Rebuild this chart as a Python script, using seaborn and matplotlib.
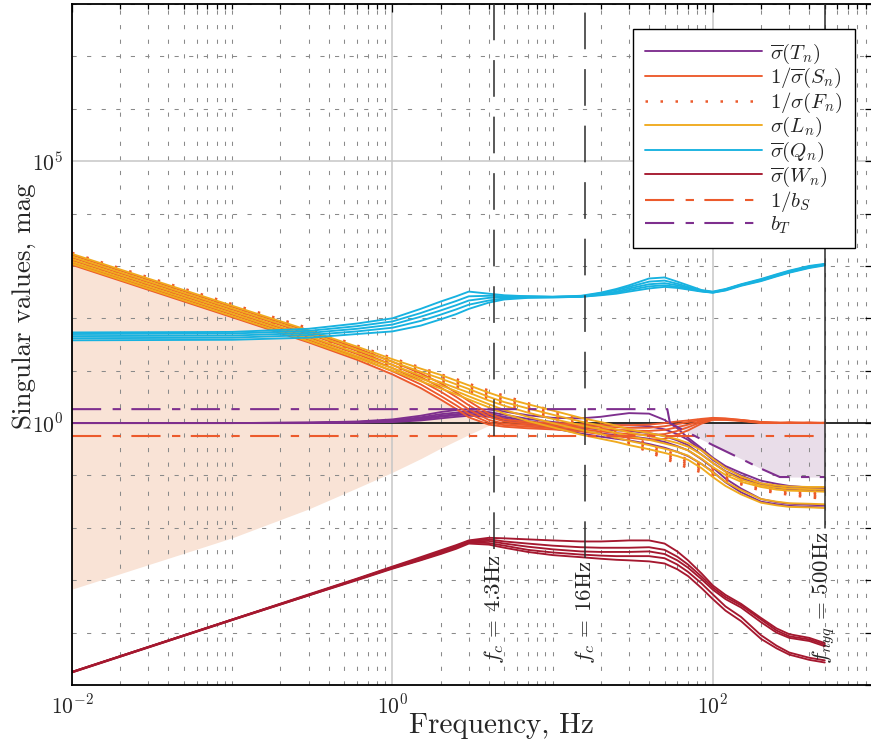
import numpy as np
import pandas as pd
import matplotlib
matplotlib.use("Agg")
import matplotlib.pyplot as plt
import seaborn as sns
from matplotlib.ticker import FixedLocator, FixedFormatter, NullFormatter
from matplotlib.lines import Line2D

# ---------------------------------------------------------------------------
# Data: frequency grid (Hz) and log10 singular values of each loop function
# (five plant variants per family)
# ---------------------------------------------------------------------------
FREQ = [0.01, 0.1, 0.3, 0.6, 1, 1.5, 2, 2.5, 3, 4, 5, 7, 10, 15, 20, 25, 30,
        40, 50, 60, 70, 85, 100, 120, 150, 200, 250, 300, 400, 500]

T_LOG = [
    [0.00, 0.00, 0.01, 0.03, 0.07, 0.14, 0.21, 0.25, 0.27, 0.26, 0.22, 0.15, 0.10, 0.09, 0.12, 0.16, 0.19, 0.18, 0.06, -0.10, -0.28, -0.48, -0.66, -0.82, -0.95, -1.10, -1.16, -1.20, -1.23, -1.24],
    [0.00, 0.00, 0.01, 0.02, 0.05, 0.11, 0.17, 0.20, 0.23, 0.21, 0.16, 0.08, 0.02, -0.03, -0.04, -0.04, -0.04, -0.06, -0.12, -0.21, -0.32, -0.52, -0.70, -0.86, -1.00, -1.15, -1.21, -1.24, -1.26, -1.27],
    [0.00, 0.00, 0.00, 0.02, 0.04, 0.09, 0.14, 0.17, 0.20, 0.18, 0.12, 0.04, -0.03, -0.09, -0.12, -0.14, -0.15, -0.19, -0.25, -0.33, -0.42, -0.60, -0.76, -0.92, -1.05, -1.18, -1.24, -1.27, -1.29, -1.30],
    [0.00, 0.00, 0.00, 0.01, 0.03, 0.07, 0.12, 0.15, 0.17, 0.15, 0.09, 0.01, -0.07, -0.15, -0.20, -0.23, -0.25, -0.30, -0.36, -0.44, -0.52, -0.69, -0.85, -1.06, -1.25, -1.45, -1.51, -1.54, -1.56, -1.57],
    [0.00, 0.00, 0.00, 0.01, 0.02, 0.05, 0.09, 0.12, 0.14, 0.12, 0.06, -0.02, -0.10, -0.20, -0.26, -0.30, -0.33, -0.40, -0.47, -0.55, -0.63, -0.78, -0.93, -1.13, -1.32, -1.50, -1.55, -1.58, -1.60, -1.61],
]

S_LOG = [
    [3.21, 2.22, 1.75, 1.43, 1.17, 0.95, 0.76, 0.58, 0.42, 0.18, 0.07, 0.02, 0.00, -0.02, -0.03, -0.04, -0.04, -0.03, 0.00, 0.03, 0.05, 0.08, 0.10, 0.09, 0.06, 0.02, 0.00, 0.01, 0.00, 0.01],
    [3.16, 2.17, 1.70, 1.38, 1.11, 0.88, 0.68, 0.50, 0.34, 0.12, 0.03, -0.01, -0.03, -0.05, -0.07, -0.08, -0.09, -0.09, -0.06, -0.02, 0.02, 0.06, 0.09, 0.08, 0.06, 0.02, 0.01, 0.00, 0.01, 0.00],
    [3.11, 2.12, 1.64, 1.32, 1.05, 0.81, 0.60, 0.42, 0.26, 0.06, -0.01, -0.04, -0.06, -0.08, -0.11, -0.13, -0.14, -0.15, -0.13, -0.08, -0.03, 0.04, 0.08, 0.07, 0.05, 0.01, 0.00, 0.01, 0.00, 0.00],
    [3.06, 2.07, 1.59, 1.26, 0.99, 0.74, 0.52, 0.34, 0.18, 0.01, -0.04, -0.07, -0.09, -0.12, -0.16, -0.19, -0.21, -0.23, -0.21, -0.15, -0.08, 0.02, 0.07, 0.07, 0.05, 0.01, 0.01, 0.00, 0.01, 0.00],
    [3.02, 2.02, 1.54, 1.21, 0.93, 0.67, 0.45, 0.27, 0.11, -0.03, -0.07, -0.10, -0.12, -0.16, -0.21, -0.25, -0.28, -0.32, -0.30, -0.22, -0.14, -0.01, 0.06, 0.06, 0.04, 0.00, 0.00, 0.01, 0.00, 0.00],
]

F_LOG = [
    [3.25, 2.27, 1.81, 1.48, 1.24, 1.06, 0.93, 0.84, 0.75, 0.62, 0.52, 0.38, 0.23, 0.08, -0.03, -0.14, -0.25, -0.40, -0.52, -0.61, -0.70, -0.79, -0.86, -0.94, -1.03, -1.15, -1.20, -1.24, -1.28, -1.30],
    [3.21, 2.23, 1.77, 1.44, 1.20, 1.02, 0.89, 0.80, 0.71, 0.58, 0.48, 0.34, 0.19, 0.04, -0.07, -0.18, -0.29, -0.44, -0.56, -0.65, -0.74, -0.82, -0.90, -0.98, -1.07, -1.19, -1.23, -1.27, -1.32, -1.34],
    [3.17, 2.19, 1.73, 1.40, 1.16, 0.98, 0.85, 0.76, 0.67, 0.54, 0.44, 0.30, 0.15, 0.01, -0.10, -0.22, -0.33, -0.48, -0.60, -0.69, -0.78, -0.86, -0.94, -1.02, -1.10, -1.22, -1.27, -1.31, -1.35, -1.37],
    [3.13, 2.15, 1.69, 1.36, 1.12, 0.94, 0.81, 0.72, 0.63, 0.50, 0.40, 0.26, 0.12, -0.03, -0.14, -0.26, -0.37, -0.52, -0.64, -0.73, -0.82, -0.90, -0.97, -1.05, -1.14, -1.26, -1.30, -1.34, -1.39, -1.41],
    [3.10, 2.12, 1.66, 1.33, 1.08, 0.90, 0.77, 0.68, 0.59, 0.46, 0.36, 0.22, 0.08, -0.06, -0.17, -0.29, -0.40, -0.55, -0.68, -0.77, -0.86, -0.94, -1.01, -1.09, -1.17, -1.29, -1.33, -1.37, -1.42, -1.44],
]

L_LOG = [
    [3.23, 2.24, 1.77, 1.46, 1.22, 1.04, 0.92, 0.81, 0.72, 0.58, 0.48, 0.36, 0.24, 0.10, 0.02, -0.05, -0.12, -0.19, -0.25, -0.31, -0.38, -0.52, -0.68, -0.86, -1.02, -1.15, -1.19, -1.21, -1.22, -1.22],
    [3.18, 2.19, 1.72, 1.40, 1.17, 0.98, 0.85, 0.74, 0.65, 0.50, 0.40, 0.28, 0.16, 0.03, -0.05, -0.12, -0.18, -0.25, -0.32, -0.38, -0.45, -0.60, -0.76, -0.93, -1.08, -1.19, -1.23, -1.25, -1.26, -1.27],
    [3.13, 2.14, 1.66, 1.34, 1.11, 0.91, 0.78, 0.67, 0.58, 0.43, 0.33, 0.20, 0.08, -0.04, -0.12, -0.19, -0.25, -0.32, -0.39, -0.45, -0.52, -0.68, -0.84, -0.99, -1.12, -1.22, -1.27, -1.29, -1.30, -1.31],
    [3.08, 2.09, 1.61, 1.28, 1.05, 0.85, 0.72, 0.61, 0.51, 0.36, 0.25, 0.12, 0.00, -0.13, -0.21, -0.28, -0.34, -0.42, -0.49, -0.55, -0.62, -0.78, -0.94, -1.12, -1.28, -1.45, -1.50, -1.53, -1.54, -1.55],
    [3.04, 2.04, 1.56, 1.24, 1.00, 0.80, 0.66, 0.55, 0.45, 0.30, 0.18, 0.04, -0.08, -0.22, -0.30, -0.36, -0.42, -0.50, -0.57, -0.63, -0.70, -0.86, -1.03, -1.20, -1.36, -1.52, -1.57, -1.60, -1.61, -1.62],
]

Q_LOG = [
    [1.58, 1.59, 1.63, 1.70, 1.75, 1.86, 1.98, 2.08, 2.18, 2.30, 2.36, 2.39, 2.40, 2.41, 2.44, 2.47, 2.51, 2.57, 2.60, 2.58, 2.55, 2.51, 2.49, 2.53, 2.62, 2.71, 2.80, 2.87, 2.96, 3.01],
    [1.62, 1.63, 1.68, 1.75, 1.82, 1.95, 2.07, 2.17, 2.26, 2.34, 2.38, 2.40, 2.40, 2.41, 2.45, 2.49, 2.54, 2.61, 2.63, 2.60, 2.56, 2.52, 2.49, 2.54, 2.63, 2.72, 2.81, 2.88, 2.97, 3.02],
    [1.66, 1.67, 1.72, 1.80, 1.88, 2.03, 2.15, 2.25, 2.34, 2.39, 2.40, 2.41, 2.41, 2.42, 2.46, 2.51, 2.57, 2.65, 2.67, 2.63, 2.58, 2.52, 2.50, 2.55, 2.64, 2.73, 2.82, 2.89, 2.98, 3.03],
    [1.70, 1.71, 1.76, 1.85, 1.94, 2.10, 2.23, 2.33, 2.42, 2.43, 2.42, 2.42, 2.41, 2.42, 2.48, 2.54, 2.60, 2.70, 2.72, 2.66, 2.60, 2.53, 2.50, 2.55, 2.64, 2.74, 2.83, 2.90, 2.99, 3.03],
    [1.73, 1.74, 1.80, 1.90, 2.00, 2.18, 2.32, 2.42, 2.51, 2.47, 2.44, 2.42, 2.41, 2.43, 2.49, 2.56, 2.63, 2.76, 2.78, 2.70, 2.63, 2.54, 2.51, 2.56, 2.65, 2.75, 2.84, 2.91, 3.00, 3.04],
]

W_LOG = [
    [-4.75, -3.75, -3.27, -2.97, -2.74, -2.56, -2.43, -2.33, -2.24, -2.19, -2.20, -2.22, -2.24, -2.26, -2.26, -2.25, -2.24, -2.24, -2.30, -2.45, -2.62, -2.87, -3.10, -3.28, -3.45, -3.72, -3.92, -4.03, -4.10, -4.20],
    [-4.75, -3.75, -3.28, -2.98, -2.75, -2.58, -2.45, -2.35, -2.25, -2.22, -2.26, -2.30, -2.34, -2.37, -2.38, -2.38, -2.38, -2.37, -2.42, -2.55, -2.70, -2.93, -3.14, -3.32, -3.48, -3.75, -3.96, -4.07, -4.13, -4.23],
    [-4.75, -3.75, -3.28, -2.98, -2.76, -2.59, -2.46, -2.36, -2.26, -2.25, -2.30, -2.36, -2.41, -2.45, -2.46, -2.46, -2.46, -2.45, -2.50, -2.62, -2.76, -2.98, -3.18, -3.36, -3.52, -3.80, -4.00, -4.10, -4.16, -4.26],
    [-4.76, -3.76, -3.29, -2.99, -2.77, -2.61, -2.48, -2.38, -2.28, -2.29, -2.34, -2.42, -2.47, -2.51, -2.53, -2.54, -2.54, -2.54, -2.58, -2.70, -2.84, -3.06, -3.27, -3.50, -3.70, -4.05, -4.25, -4.38, -4.48, -4.53],
    [-4.76, -3.76, -3.29, -3.00, -2.78, -2.62, -2.50, -2.40, -2.30, -2.32, -2.38, -2.46, -2.52, -2.56, -2.59, -2.61, -2.62, -2.64, -2.68, -2.79, -2.92, -3.15, -3.36, -3.58, -3.78, -4.12, -4.30, -4.42, -4.52, -4.57],
]

# Weighting bounds
BS_FREQ = [0.01, 500]
BS_INV_LOG = [-0.24, -0.24]                       # 1/b_S
BT_FREQ = [0.01, 52, 54, 65, 100, 150, 200, 262, 500]
BT_LOG = [0.266, 0.266, 0.0, -0.13, -0.42, -0.68, -0.87, -1.03, -1.03]   # b_T

# Low-frequency region for the loop gain
REGION_FREQ = [0.01, 0.1, 0.3, 0.6, 1, 1.5, 2, 3, 4.3]
REGION_LO_LOG = [-3.17, -2.19, -1.64, -1.24, -0.94, -0.68, -0.48, -0.22, 0.0]
REGION_HI_LOG = [3.04, 2.04, 1.56, 1.22, 0.95, 0.68, 0.46, 0.12, 0.0]

# Marker frequencies
MARK_FREQ = [4.3, 16, 500]
MARK_LABELS = [r"$f_c\,=\,4.3$Hz", r"$f_c\,=\,16$Hz", r"$f_{nyq}\,=\,500$Hz"]
MARK_END_LOG = [-2.41, -2.57, -2.0]
MARK_STYLE = [(0, (24, 13)), (0, (24, 13)), "-"]
LABEL_BASE_LOG = -4.6

# Styles per family
C_T = "#7E2F8E"
C_S = "#EC5A2C"
C_L = "#F0AA1E"
C_Q = "#17B2E0"
C_W = "#A5182F"

FAMILIES = [
    ("T", T_LOG, C_T, "-", r"$\overline{\sigma}(T_n)$"),
    ("S", S_LOG, C_S, "-", r"$1/\overline{\sigma}(S_n)$"),
    ("F", F_LOG, C_S, (0, (1, 5)), r"$1/\sigma(F_n)$"),
    ("L", L_LOG, C_L, "-", r"$\sigma(L_n)$"),
    ("Q", Q_LOG, C_Q, "-", r"$\overline{\sigma}(Q_n)$"),
    ("W", W_LOG, C_W, "-", r"$\overline{\sigma}(W_n)$"),
]

rows = []
for name, curves, *_ in FAMILIES:
    for k, curve in enumerate(curves):
        for f, v in zip(FREQ, curve):
            rows.append((name, k, f, 10.0 ** v))
df = pd.DataFrame(rows, columns=["family", "variant", "freq", "mag"])

# ---------------------------------------------------------------------------
# Figure
# ---------------------------------------------------------------------------
sns.set_style("white")
plt.rcParams.update({
    "font.family": "serif",
    "font.serif": ["cmr10"],
    "mathtext.fontset": "cm",
    "axes.formatter.use_mathtext": True,
    "axes.unicode_minus": False,
})

fig = plt.figure(figsize=(8.71, 7.49), dpi=100)
ax = fig.add_axes([72 / 871, 64 / 749, 801 / 871, 681 / 749])
ax.set_xscale("log")
ax.set_yscale("log")

# shaded regions
rf = np.array(REGION_FREQ)
ax.fill_between(rf, 10.0 ** np.array(REGION_LO_LOG), 10.0 ** np.array(REGION_HI_LOG),
                color="#F9E3D6", lw=0, zorder=0.3)
btf = np.array(BT_FREQ)
bt = 10.0 ** np.array(BT_LOG)
ax.fill_between(btf, bt, 1.0, where=bt <= 1.0, interpolate=True,
                color="#E9DDE9", lw=0, zorder=0.3)

# unity reference line
ax.axhline(1.0, color="black", lw=1.1, zorder=1.5)

handles = []
for name, curves, color, ls, label in FAMILIES:
    lw = 1.8 if name == "F" else 1.35
    sns.lineplot(data=df[df["family"] == name], x="freq", y="mag",
                 units="variant", estimator=None, sort=False,
                 color=color, lw=lw, linestyle=ls, legend=False, ax=ax)
    handles.append(Line2D([], [], color=color, lw=lw, linestyle=ls, label=label))

dashdot = (0, (14, 5.5, 4, 5))
ax.plot(BS_FREQ, 10.0 ** np.array(BS_INV_LOG), color=C_S, lw=1.5, linestyle=dashdot, zorder=2.2)
ax.plot(BT_FREQ, bt, color=C_T, lw=1.5, linestyle=dashdot, zorder=2.2)
handles.append(Line2D([], [], color=C_S, lw=1.5, linestyle=dashdot, label=r"$1/b_S$"))
handles.append(Line2D([], [], color=C_T, lw=1.5, linestyle=dashdot, label=r"$b_T$"))

# marker frequencies
for f, lab, end, st in zip(MARK_FREQ, MARK_LABELS, MARK_END_LOG, MARK_STYLE):
    ax.plot([f, f], [10.0 ** end, 1e8], color="#2b2b2b", lw=1.1, linestyle=st, zorder=3)
    ax.text(f, 10.0 ** LABEL_BASE_LOG, lab, rotation=90, ha="center", va="bottom",
            fontsize=16.5, zorder=3)

# axes limits, ticks and grid
ax.set_xlim(1e-2, 1e3)
ax.set_ylim(1e-5, 1e8)

ax.xaxis.set_major_locator(FixedLocator([1e-2, 1e0, 1e2]))
ax.xaxis.set_major_formatter(FixedFormatter([r"$10^{-2}$", r"$10^{0}$", r"$10^{2}$"]))
xminor = [m * 10.0 ** d for d in range(-2, 3) for m in range(1, 10)
          if not (m == 1 and d in (-2, 0, 2))]
ax.xaxis.set_minor_locator(FixedLocator(xminor))
ax.xaxis.set_minor_formatter(NullFormatter())

ax.yaxis.set_major_locator(FixedLocator([1e0, 1e5]))
ax.yaxis.set_major_formatter(FixedFormatter([r"$10^{0}$", r"$10^{5}$"]))
ax.yaxis.set_minor_locator(FixedLocator([10.0 ** d for d in range(-5, 9) if d not in (0, 5)]))
ax.yaxis.set_minor_formatter(NullFormatter())

ax.tick_params(which="both", direction="in", top=True, right=True, width=0.9,
               labelsize=15.5, color="black")
ax.tick_params(which="major", length=6)
ax.tick_params(axis="x", which="minor", length=3.6)
ax.tick_params(axis="y", which="minor", length=6)
ax.tick_params(axis="x", which="major", pad=6)
ax.tick_params(axis="y", which="major", pad=6)

ax.set_axisbelow(True)
ax.grid(which="major", color="#c6c6c6", lw=1.1, ls="-")
ax.grid(which="minor", color="#8a8a8a", lw=0.75, ls=(0, (4, 10)))

for sp in ax.spines.values():
    sp.set_color("black")
    sp.set_linewidth(1.3)

ax.set_xlabel("Frequency, Hz", fontsize=21)
ax.set_ylabel("Singular values, mag", fontsize=19.5)
ax.xaxis.set_label_coords((501 - 72) / 801, -0.041)
ax.yaxis.set_label_coords((36 - 72) / 801, (685 - 306) / 681)

leg = ax.legend(handles=handles, loc="upper right", bbox_to_anchor=(0.9775, 0.963),
                borderaxespad=0, fontsize=15, handlelength=5.6, handletextpad=0.4,
                labelspacing=0.02, borderpad=0.6, fancybox=False, framealpha=1,
                edgecolor="black")
leg.get_frame().set_linewidth(1.0)

fig.savefig("out.png", dpi=100)
